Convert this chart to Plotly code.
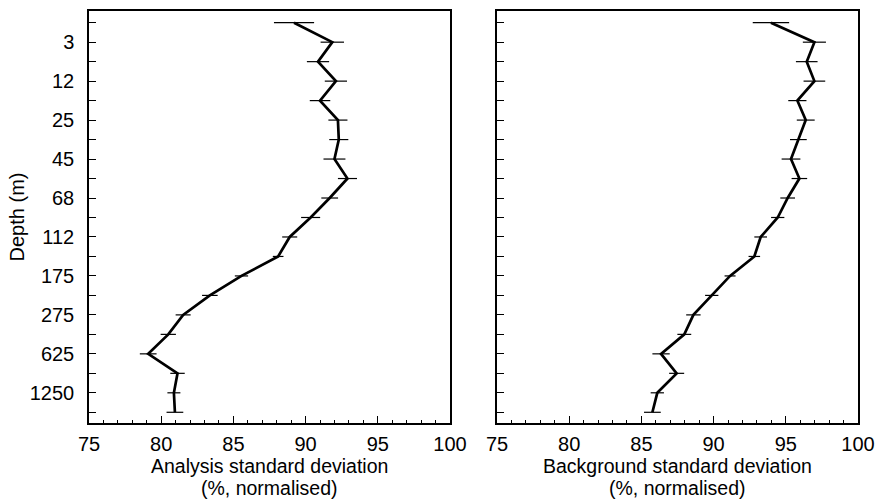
import plotly.graph_objects as go

# Depth levels (top to bottom); only every other level is labelled
depth_labels = ["", "3", "", "12", "", "25", "", "45", "", "68", "",
                "112", "", "175", "", "275", "", "625", "", "1250", ""]
levels = list(range(len(depth_labels)))

analysis_sd = [89.2, 91.85, 90.86, 92.1, 91.0, 92.24, 92.3, 92.0, 92.9, 91.67, 90.35,
               88.9, 88.1, 85.56, 83.37, 81.52, 80.49, 79.1, 81.13, 80.88, 80.95]
analysis_err = [1.39, 0.81, 0.77, 0.77, 0.71, 0.66, 0.66, 0.76, 0.66, 0.58, 0.66,
                0.52, 0.37, 0.46, 0.54, 0.52, 0.53, 0.58, 0.5, 0.45, 0.58]

background_sd = [93.97, 96.98, 96.45, 96.98, 95.8, 96.38, 95.87, 95.36, 95.94, 95.13, 94.44,
                 93.26, 92.82, 91.14, 89.87, 88.6, 87.97, 86.36, 87.44, 86.1, 85.76]
background_err = [1.26, 0.8, 0.75, 0.75, 0.63, 0.62, 0.58, 0.65, 0.54, 0.51, 0.46,
                  0.44, 0.4, 0.38, 0.46, 0.5, 0.48, 0.6, 0.52, 0.46, 0.58]

x_ticks = [75, 80, 85, 90, 95, 100]
x_titles = [("Analysis standard deviation", "(%, normalised)"),
            ("Background standard deviation", "(%, normalised)")]

FONT = "Liberation Sans, Arial, Helvetica, sans-serif"
FS = 20
TFS = 19.5

fig = go.Figure()
for xs, errs, xa, ya in [(analysis_sd, analysis_err, "x", "y"),
                         (background_sd, background_err, "x2", "y2")]:
    fig.add_trace(go.Scatter(
        x=xs, y=levels, mode="lines", xaxis=xa, yaxis=ya,
        line=dict(color="black", width=2.7),
        error_x=dict(type="data", array=errs, visible=True, color="black",
                     thickness=1.2, width=0),
        showlegend=False, hoverinfo="x+y"))

common_x = dict(range=[75, 100], tickvals=x_ticks, ticks="inside", ticklen=7,
                tickwidth=1.3, tickcolor="black", showline=True, linecolor="black",
                linewidth=1.5, mirror=True, showgrid=False, zeroline=False,
                automargin=False,
                tickfont=dict(size=FS, color="black"), ticklabelstandoff=2,
                minor=dict(dtick=1, ticks="inside", ticklen=3, tickwidth=1,
                           tickcolor="black", showgrid=False))
common_y = dict(range=[20.55, -0.6], tickvals=levels, ticks="inside", ticklen=7,
                tickwidth=1.3, tickcolor="black", showline=True, linecolor="black",
                linewidth=1.5, mirror=True, showgrid=False, zeroline=False,
                automargin=False,
                tickfont=dict(size=FS, color="black"), ticklabelstandoff=9)

DOM1 = [0, 0.4694]
DOM2 = [0.5306, 1]

fig.update_layout(
    width=875, height=500,
    margin=dict(l=89, r=17, t=11, b=77),
    paper_bgcolor="white", plot_bgcolor="white",
    font=dict(family=FONT, size=FS, color="black"),
    xaxis=dict(domain=DOM1, anchor="y", **common_x),
    xaxis2=dict(domain=DOM2, anchor="y2", **common_x),
    yaxis=dict(domain=[0, 1], anchor="x", ticktext=depth_labels,
               title=dict(text="Depth (m)", standoff=0, font=dict(size=FS)),
               **common_y),
    yaxis2=dict(domain=[0, 1], anchor="x2", ticktext=[""] * len(levels),
                showticklabels=False, **common_y),
)

# Two-line x-axis titles, tightly spaced as in the reference
plot_h = 500 - 11 - 77
for dom, (l1, l2) in zip([DOM1, DOM2], x_titles):
    xc = (dom[0] + dom[1]) / 2
    for txt, ypx in [(l1, 466), (l2, 487.5)]:
        fig.add_annotation(text=txt, xref="paper", yref="paper",
                           x=xc, y=(423 - ypx) / plot_h, xanchor="center",
                           yanchor="middle", showarrow=False,
                           font=dict(size=TFS, color="black", family=FONT))

fig.write_html("out.html")
